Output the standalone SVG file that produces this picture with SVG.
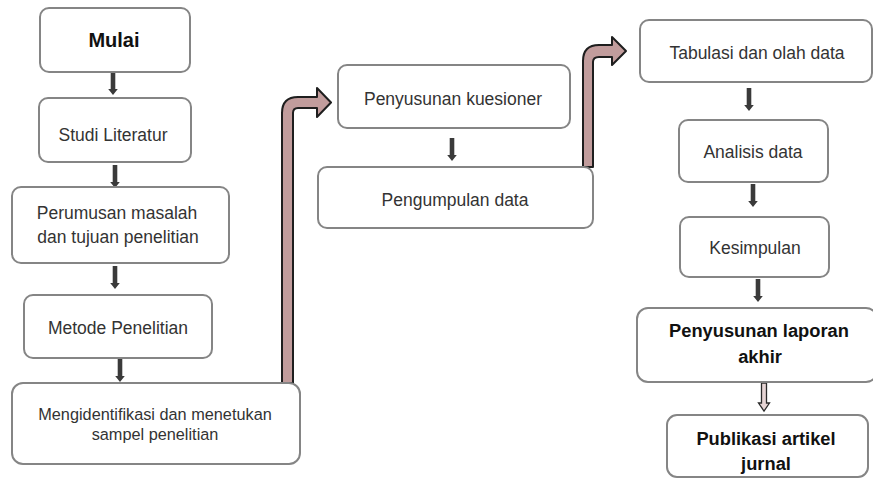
<svg xmlns="http://www.w3.org/2000/svg" width="873" height="488" viewBox="0 0 873 488">
<style>
.box{fill:#fff;stroke:#858585;stroke-width:2}
.t{font-family:"Liberation Sans",Arial,sans-serif;font-size:17.5px;fill:#333;text-anchor:middle}
.s{font-size:16.3px}
.b{font-family:"Liberation Sans",Arial,sans-serif;font-weight:bold;font-size:18.3px;fill:#111;text-anchor:middle}
.dn{fill:#3a3a3a}
.big{fill:#c19c9c;stroke:#1e1e1e;stroke-width:2;stroke-linejoin:round}
.hol{fill:#e6d4d4;stroke:#2a2a2a;stroke-width:1.3}
</style>
<defs>
<path id="da" d="M-2.3,0 H2.3 V17 H4.8 L0,23 L-4.8,17 H-2.3 Z"/>
</defs>
<rect width="873" height="488" fill="#fff"/>
<g id="connectors">
<use href="#da" class="dn" x="113" y="72"/>
<use href="#da" class="dn" x="115" y="165"/>
<use href="#da" class="dn" x="115" y="266"/>
<use href="#da" class="dn" x="120" y="359"/>
<use href="#da" class="dn" x="452" y="138"/>
<use href="#da" class="dn" x="749" y="88"/>
<use href="#da" class="dn" x="753" y="184"/>
<use href="#da" class="dn" x="758" y="279"/>
<path class="hol" d="M761.5,383 H766.5 V403 H769.5 L764,411 L758.5,403 H761.5 Z"/>
<path class="big" d="M282,383 L282,113 Q282,97 298,97 L317,97 L317,88 L331,102.5 L317,117 L317,108 L298,108 Q293,108 293,113 L293,383 Z"/>
<path class="big" d="M583,167 L583,61 Q583,45 599,45 L612,45 L612,37 L626,51 L612,65 L612,57 L599,57 Q593,57 593,62 L593,167 Z"/>
</g>
<g id="n1"><rect class="box" x="40" y="8" width="150" height="64" rx="9"/><text class="b" x="114" y="47" style="font-size:20px">Mulai</text></g>
<g id="n2"><rect class="box" x="39" y="98" width="152" height="64" rx="9"/><text class="t" x="113" y="141">Studi Literatur</text></g>
<g id="n3"><rect class="box" x="12" y="187" width="217" height="76" rx="9"/><text class="t" x="117" y="219">Perumusan masalah</text><text class="t" x="118" y="243">dan tujuan penelitian</text></g>
<g id="n4"><rect class="box" x="24" y="295" width="188" height="63" rx="9"/><text class="t" x="118" y="334">Metode Penelitian</text></g>
<g id="n5"><rect class="box" x="12" y="383" width="288" height="81" rx="11"/><text class="t s" x="155" y="420">Mengidentifikasi dan menetukan</text><text class="t s" x="155" y="440">sampel penelitian</text></g>
<g id="n6"><rect class="box" x="338" y="65" width="232" height="63" rx="9"/><text class="t" x="453" y="105">Penyusunan kuesioner</text></g>
<g id="n7"><rect class="box" x="318" y="167" width="275" height="61" rx="9"/><text class="t" x="455" y="206">Pengumpulan data</text></g>
<g id="n8"><rect class="box" x="640" y="20" width="232" height="62" rx="9"/><text class="t" x="757" y="59">Tabulasi dan olah data</text></g>
<g id="n9"><rect class="box" x="679" y="120" width="149" height="62" rx="9"/><text class="t" x="753" y="158">Analisis data</text></g>
<g id="n10"><rect class="box" x="680" y="217" width="149" height="60" rx="9"/><text class="t" x="755" y="254">Kesimpulan</text></g>
<g id="n11"><rect class="box" x="637" y="308" width="240" height="74" rx="11"/><text class="b" x="759" y="337">Penyusunan laporan</text><text class="b" x="760" y="363">akhir</text></g>
<g id="n12"><rect class="box" x="667" y="415" width="201" height="62" rx="10"/><text class="b" x="766" y="445">Publikasi artikel</text><text class="b" x="766" y="470">jurnal</text></g>
</svg>
